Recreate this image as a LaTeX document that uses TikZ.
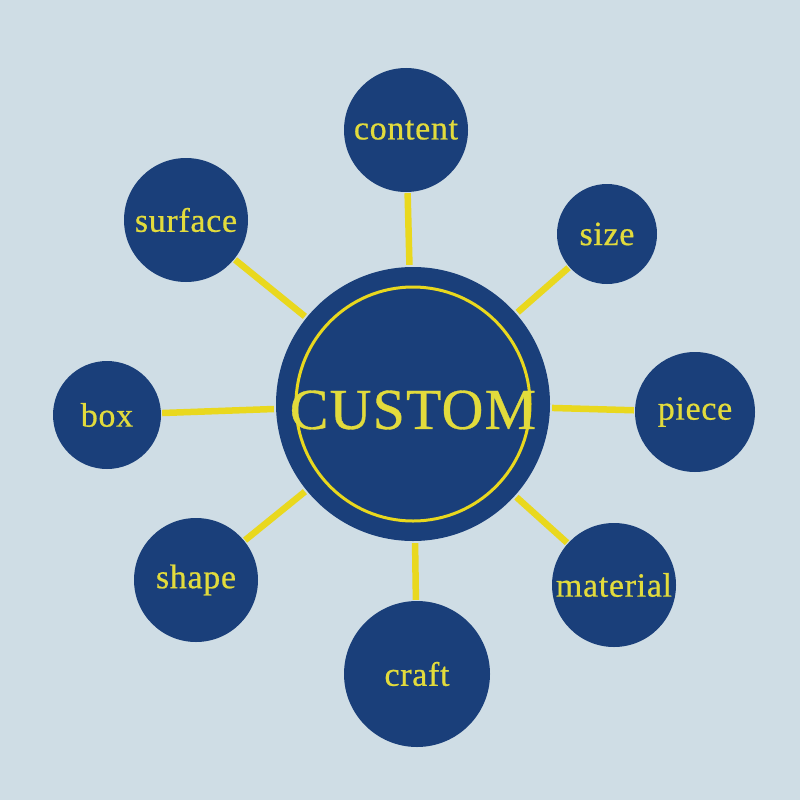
\documentclass[tikz,border=0pt]{standalone}
\usepackage{fontspec}
\setmainfont{Liberation Serif}
\newfontfamily\satfont[LetterSpace=2,FakeBold=0.6]{Liberation Serif}
\newfontfamily\bigfont[LetterSpace=2,FakeBold=0.6]{Liberation Serif}
\definecolor{bgc}{HTML}{CFDDE5}
\definecolor{navy}{HTML}{1A3F7A}
\definecolor{linec}{HTML}{E9D81E}
\definecolor{textc}{HTML}{E2DB3C}
\begin{document}
\begin{tikzpicture}[x=1pt,y=-1pt,
  sat/.style={circle,fill=navy,inner sep=0pt,text=textc,font=\satfont\fontsize{34}{34}\selectfont},
  hub/.style={circle,fill=navy,inner sep=0pt,minimum size=274pt},
  link/.style={draw=linec,line width=6.5pt,shorten <=2pt,shorten >=1pt}]
\fill[bgc] (0,0) rectangle (800,800);
\useasboundingbox (0,0) rectangle (800,800);
% satellites
\node[sat,minimum size=124pt] (content) at (406,130) {content};
\node[sat,minimum size=100pt] (size) at (607,234) {size};
\node[sat,minimum size=120pt] (piece) at (695,412) {piece};
\node[sat,minimum size=124pt] (material) at (614,585) {material};
\node[sat,minimum size=146pt] (craft) at (417,674) {craft};
\node[sat,minimum size=124pt] (shape) at (196,580) {shape};
\node[sat,minimum size=108pt] (box) at (107,415) {box};
\node[sat,minimum size=124pt] (surface) at (186,220) {surface};
% hub
\node[hub] (c) at (413,404) {};
\draw[linec,line width=3pt] (c.center) circle (117);
\node[text=textc,font=\bigfont\fontsize{58}{58}\selectfont,inner sep=0pt] (ct) at (413,410) {CUSTOM};
% links
\foreach \s in {content,size,piece,material,craft,shape,box,surface}
  \draw[link] (c) -- (\s);
\end{tikzpicture}
\end{document}
